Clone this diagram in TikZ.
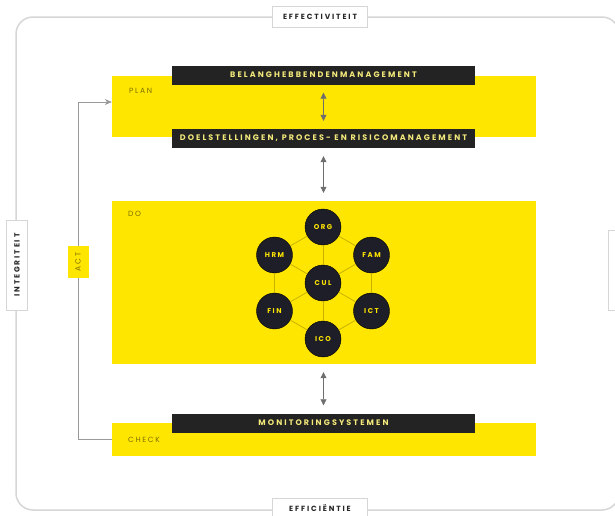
\documentclass[tikz,border=0pt]{standalone}
\usepackage{fontspec}
\setmainfont{Poppins}
\newfontfamily\spacedfont[LetterSpace=26]{Poppins}
\newfontfamily\labelfont[LetterSpace=22]{Poppins}
\newfontfamily\boxfont[LetterSpace=25]{Poppins}
\usetikzlibrary{arrows.meta}
\definecolor{pdcayellow}{HTML}{FFE600}
\definecolor{bardark}{HTML}{232323}
\definecolor{bartext}{HTML}{F3E97A}
\definecolor{framegray}{HTML}{D6D6D6}
\definecolor{olivetext}{HTML}{7D7000}
\definecolor{spokeyellow}{HTML}{C8B200}
\definecolor{arrowgray}{HTML}{6E6E6E}
\definecolor{circledark}{HTML}{1E1E28}
\tikzset{
  band/.style={fill=pdcayellow, minimum width=424pt, inner sep=0pt},
  bar/.style={fill=bardark, text=bartext, minimum width=303pt, minimum height=19pt,
    inner sep=0pt, font=\spacedfont\bfseries\fontsize{8}{9}\selectfont},
  phase/.style={anchor=west, text=olivetext, inner sep=0pt,
    font=\labelfont\fontsize{7.5}{8}\selectfont},
  unitcircle/.style={circle, fill=circledark, draw=black, minimum size=36pt, inner sep=0pt,
    text=pdcayellow, font=\labelfont\bfseries\fontsize{7}{8}\selectfont},
  link/.style={draw=spokeyellow, line width=0.8pt},
  dblarrow/.style={draw=arrowgray, line width=0.6pt,
    {Triangle[width=6pt,length=6pt]}-{Triangle[width=6pt,length=6pt]},
    shorten <=8pt, shorten >=8pt},
  frame/.style={draw=framegray, line width=1.5pt, rounded corners=17pt},
  sidelabel/.style={fill=white, draw=framegray, line width=0.8pt, minimum width=95pt,
    minimum height=21pt, inner sep=0pt, text=black!85,
    font=\boxfont\bfseries\fontsize{7.5}{8}\selectfont},
  actline/.style={draw=gray!80, line width=0.8pt, -{Stealth[width=6pt,length=7pt]}},
  actlabel/.style={fill=pdcayellow, rotate=90, minimum width=32pt, minimum height=21pt,
    inner sep=0pt, text=olivetext, font=\labelfont\fontsize{7.5}{8}\selectfont}
}
\begin{document}
\begin{tikzpicture}[x=1pt, y=-1pt]
	\useasboundingbox (0,0) rectangle (615,515);
	\draw[frame] (16,17) rectangle (619,510);
	\node[sidelabel] (effect) at (320,17) {EFFECTIVITEIT};
	\node[sidelabel] (effic) at (320,508.5) {EFFICIËNTIE};
	\node[sidelabel, rotate=90, minimum width=90pt] (integ) at (17,265) {INTEGRITEIT};
	\node[sidelabel, minimum width=21pt, minimum height=80pt] (right) at (619,270) {};

	\node[band, minimum height=61pt] (plan) at (324,106.5) {};
	\node[band, minimum height=163pt] (do) at (324,282.5) {};
	\node[band, minimum height=33pt] (check) at (324,439.5) {};
	\node[phase] (planlabel) at (129,91) {PLAN};
	\node[phase] (dolabel) at (128,214) {DO};
	\node[phase] (checklabel) at (128,440) {CHECK};

	\node[bar] (stake) at (323.5,75) {BELANGHEBBENDENMANAGEMENT};
	\node[bar] (goals) at (323.5,138.5) {DOELSTELLINGEN, PROCES- EN RISICOMANAGEMENT};
	\node[bar] (monitor) at (323.5,423) {MONITORINGSYSTEMEN};

	\draw[dblarrow] (stake.south) -- (goals.north);
	\draw[dblarrow] (goals.south) -- (goals.south |- do.north);
	\draw[dblarrow] (monitor.north |- do.south) -- (monitor.north);

	\node[unitcircle] (org) at (323,227) {ORG};
	\node[unitcircle] (fam) at (371.5,255) {FAM};
	\node[unitcircle] (ict) at (371.5,311) {ICT};
	\node[unitcircle] (ico) at (323,339) {ICO};
	\node[unitcircle] (fin) at (274.5,311) {FIN};
	\node[unitcircle] (hrm) at (274.5,255) {HRM};
	\node[unitcircle] (cul) at (323,283) {CUL};
	\draw[link] (org) -- (fam) -- (ict) -- (ico) -- (fin) -- (hrm) -- (org);
	\draw[link] (cul) -- (org);
	\draw[link] (cul) -- (fam);
	\draw[link] (cul) -- (ict);
	\draw[link] (cul) -- (ico);
	\draw[link] (cul) -- (fin);
	\draw[link] (cul) -- (hrm);

	\coordinate (acttop) at (78,102);
	\draw[actline] (check.west) -| (acttop) -- (acttop -| plan.west);
	\node[actlabel] (act) at (78,262) {ACT};
\end{tikzpicture}
\end{document}
